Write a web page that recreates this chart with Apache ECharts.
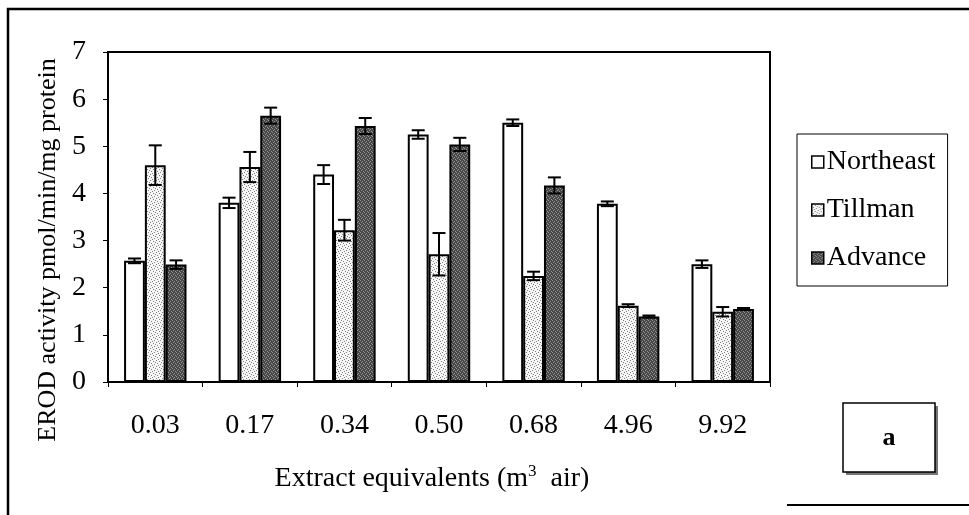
<!DOCTYPE html>
<html>
<head>
<meta charset="utf-8">
<script src="https://cdn.jsdelivr.net/npm/echarts@6/dist/echarts.min.js"></script>
<style>
html, body { margin: 0; padding: 0; background: #fff; }
#chart { width: 969px; height: 515px; }
</style>
</head>
<body>
<div id="chart"></div>
<script>
// Extract equivalents on the x axis
const categories = ['0.03', '0.17', '0.34', '0.50', '0.68', '4.96', '9.92'];

// EROD activity (pmol/min/mg protein) and standard errors per site
const northeast    = [2.57, 3.80, 4.40, 5.25, 5.50, 3.78, 2.50];
const northeastErr = [0.05, 0.11, 0.20, 0.09, 0.07, 0.05, 0.08];
const tillman      = [4.60, 4.56, 3.22, 2.71, 2.25, 1.62, 1.49];
const tillmanErr   = [0.42, 0.32, 0.22, 0.45, 0.09, 0.03, 0.10];
const advance      = [2.49, 5.65, 5.43, 5.04, 4.17, 1.39, 1.55];
const advanceErr   = [0.09, 0.17, 0.17, 0.14, 0.17, 0.02, 0.02];

const yTicks = [0, 1, 2, 3, 4, 5, 6, 7];

const FONT = '"Liberation Serif", "DejaVu Serif", serif';
const BAR_RATIO = 0.22;

// Small repeating tiles for the stippled and dark fills
function makeTile(size, base, dotColor, dots) {
  const c = document.createElement('canvas');
  c.width = size; c.height = size;
  const g = c.getContext('2d');
  g.fillStyle = base;
  g.fillRect(0, 0, size, size);
  g.fillStyle = dotColor;
  dots.forEach(function (d) { g.fillRect(d[0], d[1], 1, 1); });
  return c;
}
const tillmanTile = makeTile(6, '#f6f6f6', '#808080',
  [[0, 0], [3, 1], [1, 3], [4, 4], [5, 2], [2, 5]]);
const advanceTile = makeTile(4, '#474747', '#969696',
  [[0, 0], [2, 1], [1, 2], [3, 3]]);

const tillmanFill = { image: tillmanTile, repeat: 'repeat' };
const advanceFill = { image: advanceTile, repeat: 'repeat' };

function barSeries(name, values, fill) {
  return {
    name: name,
    type: 'bar',
    data: values,
    barWidth: (BAR_RATIO * 100) + '%',
    barGap: '0%',
    itemStyle: { color: fill, borderColor: '#000', borderWidth: 2 },
    emphasis: { disabled: true },
    z: 2
  };
}

// Error bars with caps, placed over the matching bar of each group
function errorSeries(idx, values, errs) {
  return {
    type: 'custom',
    silent: true,
    z: 5,
    data: categories.map(function (c, i) { return [i, values[i], errs[i]]; }),
    renderItem: function (params, api) {
      const ci = api.value(0), v = api.value(1), e = api.value(2);
      const hi = api.coord([ci, v + e]);
      const lo = api.coord([ci, v - e]);
      const bw = api.size([1, 0])[0] * BAR_RATIO;
      const x = hi[0] + (idx - 1) * bw;
      const cap = 6.5;
      const st = { stroke: '#000', lineWidth: 2 };
      return {
        type: 'group',
        children: [
          { type: 'line', shape: { x1: x, y1: hi[1], x2: x, y2: lo[1] }, style: st },
          { type: 'line', shape: { x1: x - cap, y1: hi[1], x2: x + cap, y2: hi[1] }, style: st },
          { type: 'line', shape: { x1: x - cap, y1: lo[1], x2: x + cap, y2: lo[1] }, style: st }
        ]
      };
    }
  };
}

const chart = echarts.init(document.getElementById('chart'), null, { renderer: 'canvas' });

chart.setOption({
  backgroundColor: '#fff',
  animation: false,
  textStyle: { fontFamily: FONT, color: '#000' },
  grid: {
    left: 108, right: 199, top: 52, bottom: 133,
    show: true, borderColor: '#000', borderWidth: 2, backgroundColor: 'transparent'
  },
  legend: {
    data: ['Northeast', 'Tillman', 'Advance'],
    orient: 'vertical',
    left: 797, top: 134,
    padding: [14, 12, 14, 14],
    itemWidth: 12, itemHeight: 12,
    itemGap: 20,
    icon: 'rect',
    backgroundColor: '#fff',
    borderColor: '#000',
    borderWidth: 1,
    selectedMode: false,
    textStyle: { fontFamily: FONT, fontSize: 28, color: '#000', lineHeight: 28, padding: [0, 0, 0, -2] },
    itemStyle: { borderColor: '#000', borderWidth: 1.5 }
  },
  xAxis: {
    type: 'category',
    data: categories,
    axisLine: { lineStyle: { color: '#000', width: 2 } },
    axisTick: { show: true, length: 5, lineStyle: { color: '#000', width: 1 } },
    axisLabel: { fontFamily: FONT, fontSize: 28, color: '#000', margin: 30 },
    name: 'Extract equivalents (m{sup|3}  air)',
    nameLocation: 'middle',
    nameGap: 81,
    nameTextStyle: {
      fontFamily: FONT, fontSize: 28, color: '#000',
      padding: [0, 14, 0, 0],
      rich: { sup: { fontFamily: FONT, fontSize: 17, color: '#000', verticalAlign: 'top', padding: [0, 0, 14, 0] } }
    }
  },
  yAxis: {
    type: 'value',
    min: yTicks[0],
    max: yTicks[yTicks.length - 1],
    interval: 1,
    splitLine: { show: false },
    axisLine: { show: true, lineStyle: { color: '#000', width: 2 } },
    axisTick: { show: true, length: 5, lineStyle: { color: '#000', width: 1 } },
    axisLabel: { fontFamily: FONT, fontSize: 28, color: '#000', margin: 22 }
  },
  graphic: [
    // outer frame
    { type: 'polyline', silent: true, shape: { points: [[8, 515], [8, 9], [969, 9]] },
      style: { stroke: '#000', lineWidth: 2.5, fill: null } },
    { type: 'line', silent: true, shape: { x1: 787, y1: 505, x2: 969, y2: 505 },
      style: { stroke: '#000', lineWidth: 2 } },
    // y axis title, reading bottom to top
    { type: 'text', silent: true, x: 48, y: 250, rotation: Math.PI / 2,
      style: { text: 'EROD activity pmol/min/mg protein', fontFamily: FONT, fontSize: 26,
               fill: '#000', align: 'center', verticalAlign: 'middle' } },
    // panel label box with drop shadow
    { type: 'rect', silent: true, shape: { x: 846, y: 406, width: 92, height: 69 },
      style: { fill: '#777' } },
    { type: 'rect', silent: true, shape: { x: 843, y: 403, width: 92, height: 69 },
      style: { fill: '#fff', stroke: '#000', lineWidth: 1.5 } },
    { type: 'text', silent: true, x: 889, y: 438,
      style: { text: 'a', fontFamily: FONT, fontSize: 26, fontWeight: 'bold', fill: '#000',
               align: 'center', verticalAlign: 'middle' } }
  ],
  series: [
    barSeries('Northeast', northeast, '#fff'),
    barSeries('Tillman', tillman, tillmanFill),
    barSeries('Advance', advance, advanceFill),
    errorSeries(0, northeast, northeastErr),
    errorSeries(1, tillman, tillmanErr),
    errorSeries(2, advance, advanceErr)
  ]
});
</script>
</body>
</html>
